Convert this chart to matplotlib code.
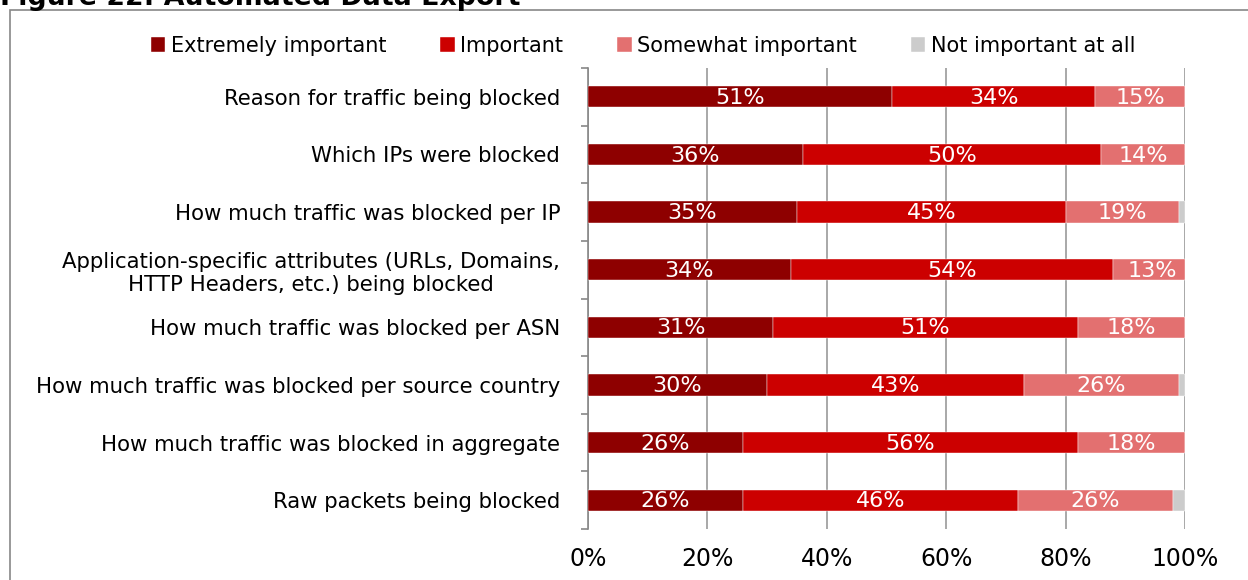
import matplotlib
matplotlib.use('Agg')
import matplotlib.pyplot as plt
from matplotlib.patches import Rectangle
import numpy as np

categories = [
    "Reason for traffic being blocked",
    "Which IPs were blocked",
    "How much traffic was blocked per IP",
    "Application-specific attributes (URLs, Domains,\nHTTP Headers, etc.) being blocked",
    "How much traffic was blocked per ASN",
    "How much traffic was blocked per source country",
    "How much traffic was blocked in aggregate",
    "Raw packets being blocked",
]
extremely = [51, 36, 35, 34, 31, 30, 26, 26]
important = [34, 50, 45, 54, 51, 43, 56, 46]
somewhat = [15, 14, 19, 13, 18, 26, 18, 26]
not_important = [100 - a - b - c for a, b, c in zip(extremely, important, somewhat)]

series_names = ["Extremely important", "Important", "Somewhat important", "Not important at all"]
colors = ["#8e0000", "#cc0000", "#e37070", "#cccccc"]
xticks = [0, 20, 40, 60, 80, 100]

W, H = 1248, 580
fig = plt.figure(figsize=(W / 100, H / 100), dpi=100)
ax = fig.add_axes([588 / W, 1 - 529 / H, 597 / W, 461 / H])

# outer frame and clipped title
fig.patches.append(Rectangle((10 / W, -0.5), 2, 1.5 - 10 / H, transform=fig.transFigure,
                             fill=False, edgecolor="#888888", linewidth=1.2))
fig.text(0.0, 1 - 5 / H, "Figure 22: Automated Data Export", fontsize=19.3, fontweight="bold",
         ha="left", va="baseline")

y = np.arange(len(categories))
left = np.zeros(len(categories))
for name, vals, col in zip(series_names, [extremely, important, somewhat, not_important], colors):
    vals = np.array(vals, dtype=float)
    ax.barh(y, vals, left=left, height=0.37, color=col, label=name, zorder=3,
            edgecolor="white", linewidth=0.3)
    if name != "Not important at all":
        for yi, l, v in zip(y, left, vals):
            ax.text(l + v / 2, yi + 0.02, f"{int(v)}%", ha="center", va="center",
                    color="white", fontsize=16, zorder=4)
    left += vals

ax.set_xlim(0, 100)
ax.set_ylim(len(categories) - 0.5, -0.5)
ax.set_yticks(y)
ax.set_yticklabels(categories, fontsize=15.3, multialignment="center")
ax.set_yticks(np.arange(len(categories) + 1) - 0.5, minor=True)
ax.tick_params(axis="y", which="major", length=0, pad=20)
ax.tick_params(axis="y", which="minor", length=5, width=1.2, color="#888888", direction="out")
ax.set_xticks(xticks)
ax.set_xticklabels([f"{t}%" for t in xticks], fontsize=17)
ax.tick_params(axis="x", length=0, pad=13)
ax.grid(axis="x", color="#999999", linewidth=1.2, zorder=0)

for s in ["top", "right", "bottom"]:
    ax.spines[s].set_visible(False)
ax.spines["left"].set_color("#888888")
ax.spines["left"].set_linewidth(1.2)

fig.legend(loc="center", bbox_to_anchor=(643 / W, 1 - 46 / H), ncol=4, frameon=False,
           fontsize=15, handlelength=0.7, handleheight=0.7, handletextpad=0.25,
           columnspacing=2.6)

plt.savefig("out.png", dpi=100)
